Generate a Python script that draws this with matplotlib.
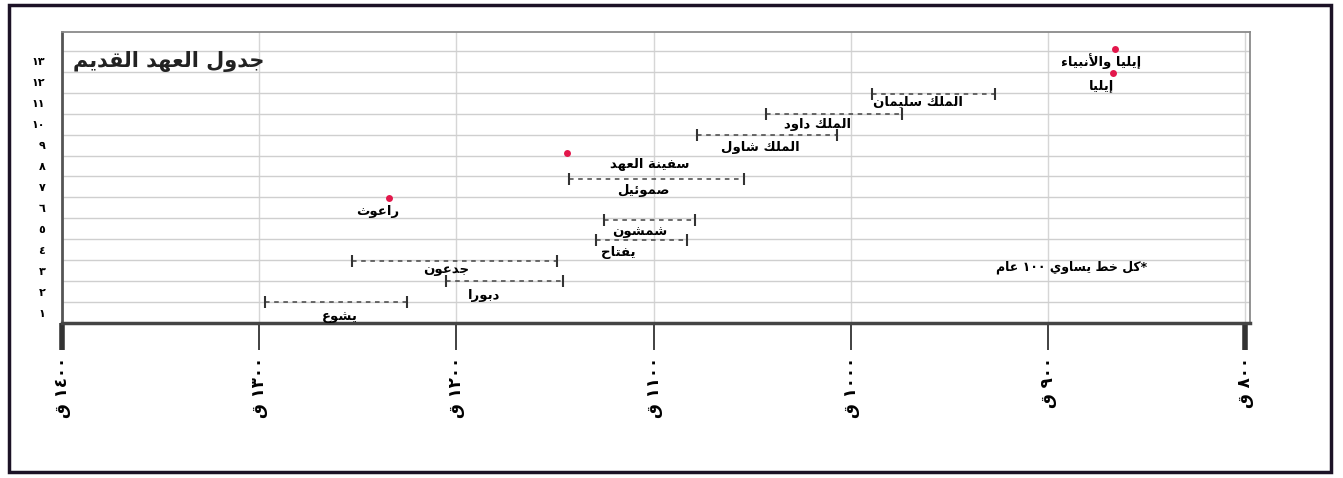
import numpy as np
import matplotlib
matplotlib.use('Agg')
import matplotlib.pyplot as plt
from matplotlib.patches import Rectangle

plt.rcParams['font.family'] = ['DejaVu Sans']

# periods (years BC), drawn as dashed bars
bar_names = ['يشوع', 'دبورا', 'جدعون', 'يفتاح', 'شمشون', 'صموئيل',
             'الملك شاول', 'الملك داود', 'الملك سليمان']
bar_start = [1297, 1205, 1253, 1129, 1125, 1143, 1078, 1043, 989]
bar_end = [1225, 1146, 1149, 1083, 1079, 1054, 1007, 974, 927]
bar_row = [1.5, 2.5, 3.45, 4.45, 5.4, 7.4, 9.5, 10.5, 11.45]
bar_label_x = [1259, 1186, 1205, 1118, 1107, 1105, 1046, 1017, 966]
bar_label_row = [0.81, 1.81, 3.06, 3.87, 4.88, 6.84, 8.9, 10.0, 11.05]

# single events, drawn as red dots
pt_names = ['راعوث', 'سفينة العهد', 'إيليا', 'إيليا والأنبياء']
pt_year = [1234, 1144, 867, 866]
pt_row = [6.45, 8.6, 12.45, 13.6]
pt_label_x = [1240, 1102, 873, 873]
pt_label_row = [5.83, 8.08, 11.86, 13.0]

years = [1400, 1300, 1200, 1100, 1000, 900, 800]
rows = list(range(1, 14))
title = 'جدول العهد القديم'
note = '*كل خط يساوي ١٠٠ عام'

# --- minimal arabic shaping (matplotlib has no bidi / joining) ---
F = {'ا': (0xFE8D, 0xFE8E), 'أ': (0xFE83, 0xFE84), 'إ': (0xFE87, 0xFE88),
     'ء': (0xFE80,), 'ب': (0xFE8F, 0xFE90, 0xFE91, 0xFE92), 'ة': (0xFE93, 0xFE94),
     'ت': (0xFE95, 0xFE96, 0xFE97, 0xFE98), 'ث': (0xFE99, 0xFE9A, 0xFE9B, 0xFE9C),
     'ج': (0xFE9D, 0xFE9E, 0xFE9F, 0xFEA0), 'ح': (0xFEA1, 0xFEA2, 0xFEA3, 0xFEA4),
     'خ': (0xFEA5, 0xFEA6, 0xFEA7, 0xFEA8), 'د': (0xFEA9, 0xFEAA), 'ر': (0xFEAD, 0xFEAE),
     'س': (0xFEB1, 0xFEB2, 0xFEB3, 0xFEB4), 'ش': (0xFEB5, 0xFEB6, 0xFEB7, 0xFEB8),
     'ص': (0xFEB9, 0xFEBA, 0xFEBB, 0xFEBC), 'ط': (0xFEC1, 0xFEC2, 0xFEC3, 0xFEC4),
     'ع': (0xFEC9, 0xFECA, 0xFECB, 0xFECC), 'ف': (0xFED1, 0xFED2, 0xFED3, 0xFED4),
     'ق': (0xFED5, 0xFED6, 0xFED7, 0xFED8), 'ك': (0xFED9, 0xFEDA, 0xFEDB, 0xFEDC),
     'ل': (0xFEDD, 0xFEDE, 0xFEDF, 0xFEE0), 'م': (0xFEE1, 0xFEE2, 0xFEE3, 0xFEE4),
     'ن': (0xFEE5, 0xFEE6, 0xFEE7, 0xFEE8), 'ه': (0xFEE9, 0xFEEA, 0xFEEB, 0xFEEC),
     'و': (0xFEED, 0xFEEE), 'ي': (0xFEF1, 0xFEF2, 0xFEF3, 0xFEF4),
     'ئ': (0xFE89, 0xFE8A, 0xFE8B, 0xFE8C)}
LAMALEF = {'ا': (0xFEFB, 0xFEFC), 'أ': (0xFEF7, 0xFEF8), 'إ': (0xFEF9, 0xFEFA)}


def shape(w):
    out = []
    joined = False  # previous glyph connects forward
    i = 0
    while i < len(w):
        c = w[i]
        if c not in F:
            out.append(c)
            joined = False
            i += 1
            continue
        if c == 'ل' and i + 1 < len(w) and w[i + 1] in LAMALEF:
            iso, fin = LAMALEF[w[i + 1]]
            out.append(chr(fin if joined else iso))
            joined = False
            i += 2
            continue
        f = F[c]
        nxt = w[i + 1] if i + 1 < len(w) else ''
        fwd = len(f) == 4 and nxt in F and len(F[nxt]) > 1
        if len(f) == 1:
            g = f[0]
        elif joined and fwd:
            g = f[3]
        elif joined:
            g = f[1]
        elif fwd:
            g = f[2]
        else:
            g = f[0]
        out.append(chr(g))
        joined = fwd
        i += 1
    return ''.join(out)


def ar(text):
    parts = [p if p.isdigit() else shape(p)[::-1] for p in text.split(' ')]
    return ' '.join(parts[::-1])


def ar_num(n):
    return str(n).translate(str.maketrans('0123456789', '٠١٢٣٤٥٦٧٨٩'))


fig = plt.figure(figsize=(13.43, 4.78), dpi=100)
ax = fig.add_axes([62 / 1343, 155 / 478, 1188 / 1343, 291 / 478])

ax.set_xlim(1400, 797.5)
ax.set_ylim(0.5, 14.4)

ax.set_xticks(years)
ax.set_xticklabels(['ق ' + ar_num(y) for y in years], rotation=90,
                   fontsize=12, fontweight='bold', va='top')
ax.set_yticks(rows)
ax.set_yticklabels([ar_num(r) for r in rows], fontsize=8, fontweight='bold')
ax.set_yticks(np.arange(1.5, 14, 1), minor=True)
ax.tick_params(axis='y', which='both', length=0, pad=12)
ax.tick_params(axis='x', length=19.5, width=1.3, color='#333', pad=5)

ax.grid(axis='x', which='major', color='#d6d6d6', lw=1)
ax.grid(axis='y', which='minor', color='#cfcfcf', lw=1)
ax.set_axisbelow(True)

for s in ['top', 'right']:
    ax.spines[s].set_color('#8a8a8a')
    ax.spines[s].set_linewidth(1.3)
ax.spines['left'].set_color('#555')
ax.spines['left'].set_linewidth(2)
ax.spines['bottom'].set_color('#444')
ax.spines['bottom'].set_linewidth(2.5)

ticks = ax.xaxis.get_major_ticks()
for t in (ticks[0], ticks[-1]):
    t.tick1line.set_markeredgewidth(4)
    t.tick1line.set_color('#111')

# dashed period bars
ax.hlines(bar_row, bar_start, bar_end, colors='#444', lw=1.1, linestyles=(0, (3, 3)))
ax.plot(bar_start, bar_row, '|', color='#333', ms=8, mew=1.5)
ax.plot(bar_end, bar_row, '|', color='#333', ms=8, mew=1.5)
for n, x, y in zip(bar_names, bar_label_x, bar_label_row):
    ax.text(x, y, ar(n), ha='center', va='center', fontsize=9.5, fontweight='bold')

# single events
ax.plot(pt_year, pt_row, 'o', color='#e3174b', ms=5, mec='none')
for n, x, y in zip(pt_names, pt_label_x, pt_label_row):
    ax.text(x, y, ar(n), ha='center', va='center', fontsize=9.5, fontweight='bold')

ax.text(0.009, 0.897, ar(title), transform=ax.transAxes, ha='left', va='center',
        fontsize=15, fontweight='bold', color='#222')
ax.text(888, 3.15, ar(note), ha='center', va='center', fontsize=9, fontweight='bold')

# outer frame of the picture
fig.patches.append(Rectangle((9 / 1343, 6 / 478), 1322 / 1343, 467 / 478,
                             transform=fig.transFigure, fill=False,
                             ec='#1c1226', lw=2.5))

fig.savefig('out.png', dpi=100)
